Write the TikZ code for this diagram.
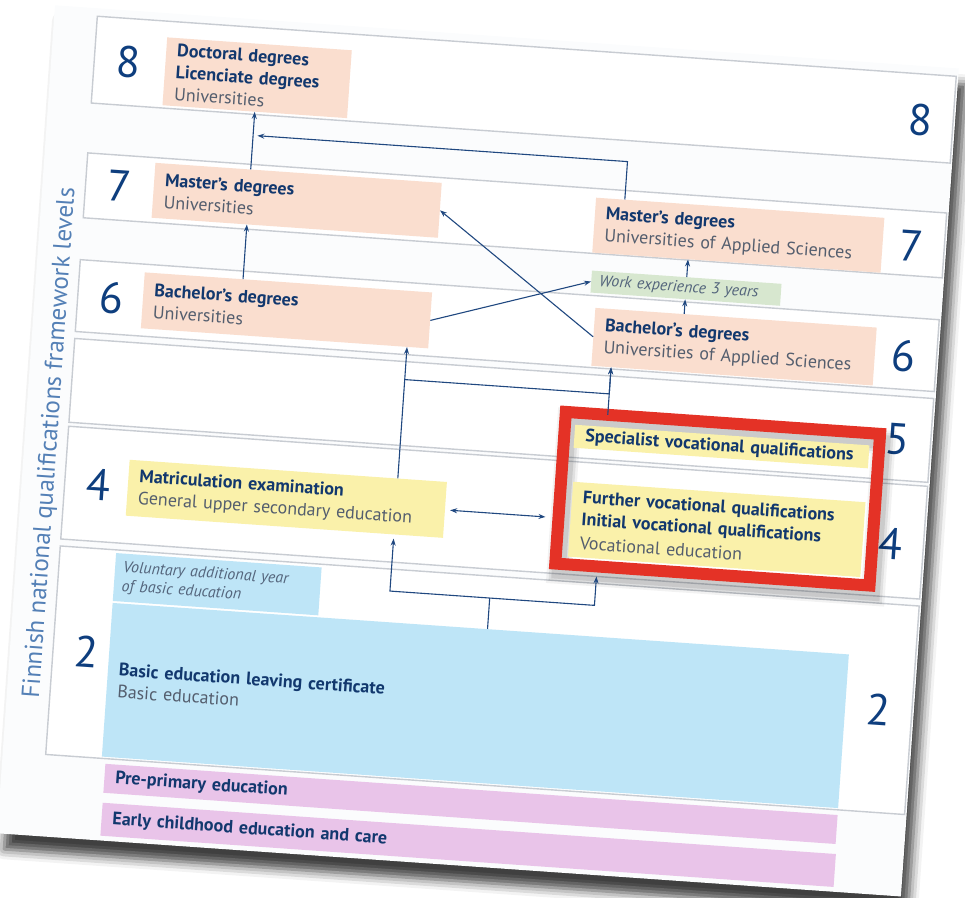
\documentclass[tikz,border=0pt]{standalone}
\usepackage{fontspec}
\setmainfont{PT Sans}
\usetikzlibrary{positioning,arrows.meta,shadows.blur}

\definecolor{navy}{RGB}{18,56,110}
\definecolor{subgray}{RGB}{84,94,110}
\definecolor{numblue}{RGB}{14,62,126}
\definecolor{labelblue}{RGB}{84,128,182}
\definecolor{framegray}{RGB}{200,204,210}
\definecolor{paper}{RGB}{251,252,253}
\definecolor{salmon}{RGB}{250,222,207}
\definecolor{lemon}{RGB}{250,241,170}
\definecolor{sky}{RGB}{190,229,247}
\definecolor{lilac}{RGB}{233,196,233}
\definecolor{sage}{RGB}{215,231,207}
\definecolor{alarm}{RGB}{228,50,38}
\definecolor{arrowblue}{RGB}{32,72,128}

\newcommand{\school}[1]{{\mdseries\color{subgray}#1}}

\tikzset{
  frame/.style={draw=framegray, fill=white, line width=1.4pt},
  qual/.style={anchor=north west, inner xsep=11pt, inner ysep=0pt, align=left,
    text=navy, font=\fontsize{18}{22}\selectfont\bfseries},
  uni/.style={qual, fill=salmon},
  gen/.style={qual, fill=lemon},
  base/.style={qual, fill=sky},
  early/.style={qual, fill=lilac},
  note/.style={anchor=north west, inner xsep=8pt, inner ysep=0pt, align=left,
    text=subgray!80!labelblue, font=\fontsize{16}{19}\selectfont\itshape},
  lvl/.style={text=numblue, font=\fontsize{44}{44}\selectfont},
  redframe/.style={draw=alarm, line width=12pt, anchor=north west, outer sep=0pt, inner sep=0pt},
  arr/.style={draw=arrowblue, line width=1.1pt, -{Stealth[length=7pt,width=5pt]}},
  dblarr/.style={draw=arrowblue, line width=1.1pt, {Stealth[length=7pt,width=5pt]}-{Stealth[length=7pt,width=5pt]}},
}

\begin{document}
\begin{tikzpicture}[x=1pt,y=1pt]
\useasboundingbox (0,0) rectangle (965,-897);
\begin{scope}[rotate around={-4:(480,-450)}, transform shape]
  \path[fill=paper, blur shadow={shadow xshift=7pt, shadow yshift=-16pt, shadow blur radius=10pt, shadow opacity=75}]
    (25,-36) rectangle (931,-866);

  \foreach \t/\b in {44/131,181/246,288/360,367/451,455/568,575/784}
    \draw[frame] (68,-\t) rectangle (929,-\b);

  \node[rotate=90, text=labelblue, font=\fontsize{25}{25}\selectfont] (axis) at (51,-473)
    {Finnish national qualifications framework levels};

  \foreach \n/\y in {8/87,7/212,6/324,4/511,2/679}
    \node[lvl] (left\n) at (102,-\y) {\n};
  \foreach \n/\y in {8/90,7/216,6/327,5/410,4/515,2/681}
    \node[lvl] (right\n) at (896,-\y) {\n};

  \node[uni, text width=163pt, minimum height=68pt] (doc) at (139,-60)
    {Doctoral degrees\\Licenciate degrees\\\school{Universities}};
  \node[uni, text width=265pt, minimum height=55pt] (mU) at (136,-186)
    {Master’s degrees\\\school{Universities}};
  \node[uni, text width=266pt, minimum height=56pt] (bU) at (133,-296)
    {Bachelor’s degrees\\\school{Universities}};
  \node[uni, text width=267pt, minimum height=55pt] (mUAS) at (578,-190)
    {Master’s degrees\\\school{Universities of Applied Sciences}};
  \node[note, fill=sage, text width=174pt, minimum height=22pt] (work) at (579,-263)
    {Work experience 3 years};
  \node[uni, text width=260pt, minimum height=58pt] (bUAS) at (585,-300)
    {Bachelor’s degrees\\\school{Universities of Applied Sciences}};
  \node[gen, text width=296pt, minimum height=56pt] (matric) at (131,-484)
    {Matriculation examination\\\school{General upper secondary education}};
  \node[note, fill=sky, text width=190pt, minimum height=48pt] (vol) at (124,-578)
    {Voluntary additional year\\of basic education};
  \node[base, text width=716pt, minimum height=154pt] (basic) at (124,-628)
    {Basic education leaving certificate\\\school{Basic education}};
  \node[early, text width=712pt, minimum height=29pt] (pre) at (128,-789)
    {Pre-primary education};
  \node[early, text width=713pt, minimum height=33pt] (ecec) at (128,-828)
    {Early childhood education and care};

  \foreach \w/\o in {24/0.05,19/0.07,14/0.09}
    \draw[black, opacity=\o, line width=\w pt] (567,-414) rectangle (882,-566);
  \node[redframe, minimum width=315pt, minimum height=152pt] (hl) at (563,-406) {};
  \node[gen, text width=273pt, minimum height=23pt] (spec) at (573,-418)
    {Specialist vocational qualifications};
  \node[gen, text width=271pt, minimum height=75pt] (voc) at (575,-475)
    {Further vocational qualifications\\Initial vocational qualifications\\[2pt]\school{Vocational education}};

  \coordinate (colL) at (400,0);
  \coordinate (colR) at (605,0);
  \coordinate (top8) at (607,-152);
  \coordinate (end8) at (236,-152);
  \coordinate (split6) at (400,-385);
  \coordinate (fork) at (500,-597);

  \draw[arr] (mU.north -| doc.south) -- (doc.south);
  \draw[arr] (mUAS.north -| top8) -- (top8) -- (end8);
  \draw[arr] (bU.north -| doc.south) -- (mU.south -| doc.south);
  \draw[arr] (bU.east) -- (work.west);
  \draw[arr] (bUAS.west) -- (mU.east);
  \draw[arr] (work.north) -- (mUAS.south -| work.north);
  \draw[arr] (bUAS.north -| work.south) -- (work.south);
  \draw[arr] (matric.north -| colL) -- (bU.south -| colL);
  \draw[arr] (split6) -| (bUAS.south -| colR);
  \draw[arr] (hl.north -| colR) -- (bUAS.south -| colR);
  \draw[dblarr, shorten <=5pt, shorten >=13pt] (matric.east) -- (matric.east -| hl.west);
  \draw[arrowblue, line width=1.1pt] (basic.north -| fork) -- (fork);
  \draw[arr, shorten >=4pt] (fork) -| (matric.south -| colL);
  \draw[arr, shorten >=10pt] (fork) -| (hl.south -| colR);
\end{scope}
\end{tikzpicture}
\end{document}
